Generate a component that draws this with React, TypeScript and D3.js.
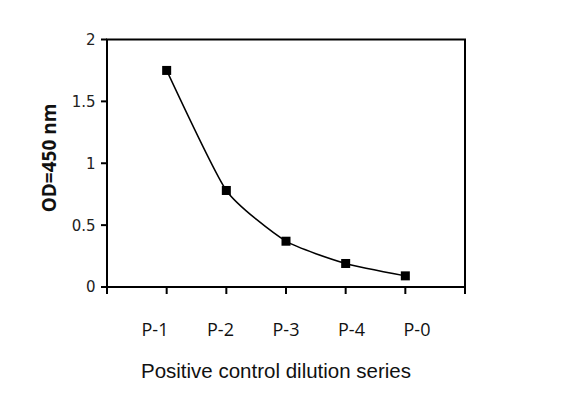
import React from "react";
import * as d3 from "d3";

const categories = ["P-1", "P-2", "P-3", "P-4", "P-0"];
const values = [1.75, 0.78, 0.37, 0.19, 0.09];
const yTicks = [0, 0.5, 1, 1.5, 2];

export default function App() {
  const W = 571, H = 404;
  const left = 107, right = 465, top = 39.5, bottom = 287;
  const x = d3.scaleLinear().domain([0, categories.length + 1]).range([left, right]);
  const y = d3.scaleLinear().domain([0, 2]).range([bottom, top]);
  const labelX = d3.scaleLinear().domain([0, categories.length - 1]).range([155, 417]);
  const line = d3
    .line<number>()
    .x((_, i) => x(i + 1))
    .y((d) => y(d))
    .curve(d3.curveCardinal.tension(0.45));
  const xTicks = d3.range(0, categories.length + 2);
  return (
    <svg
      width={W}
      height={H}
      style={{ position: "absolute", left: 0, top: 0, background: "#fff" }}
    >
      <rect x={0} y={0} width={W} height={H} fill="#fff" />
      <rect x={left} y={top} width={right - left} height={bottom - top} fill="none" stroke="#000" strokeWidth={2} />
      {yTicks.map((t) => (
        <g key={t}>
          <line x1={left - 6} x2={left} y1={y(t)} y2={y(t)} stroke="#000" strokeWidth={2} />
          <text x={95.5} y={y(t)} dy="0.36em" textAnchor="end" fontFamily="'DejaVu Sans', sans-serif" fontSize={15} fill="#222">
            {t}
          </text>
        </g>
      ))}
      {xTicks.map((t) => (
        <line key={t} x1={x(t)} x2={x(t)} y1={bottom} y2={bottom + 7} stroke="#000" strokeWidth={2} />
      ))}
      {categories.map((c, i) => (
        <text key={c} x={labelX(i)} y={336} textAnchor="middle" fontFamily="'Open Sans', sans-serif" fontSize={18} fill="#111">
          {c}
        </text>
      ))}
      <path d={line(values) || ""} fill="none" stroke="#000" strokeWidth={1.5} />
      {values.map((v, i) => (
        <rect key={i} x={x(i + 1) - 4.5} y={y(v) - 4.5} width={9} height={9} fill="#000" />
      ))}
      <text x={276} y={378} textAnchor="middle" fontFamily="'Liberation Sans', Arial, sans-serif" fontSize={20.5} fill="#111">
        Positive control dilution series
      </text>
      <text
        transform={`translate(55.5,158) rotate(-90)`}
        textAnchor="middle"
        fontFamily="'Open Sans', sans-serif"
        fontSize={19}
        fontWeight="bold"
        fill="#111"
      >
        OD=450 nm
      </text>
    </svg>
  );
}
